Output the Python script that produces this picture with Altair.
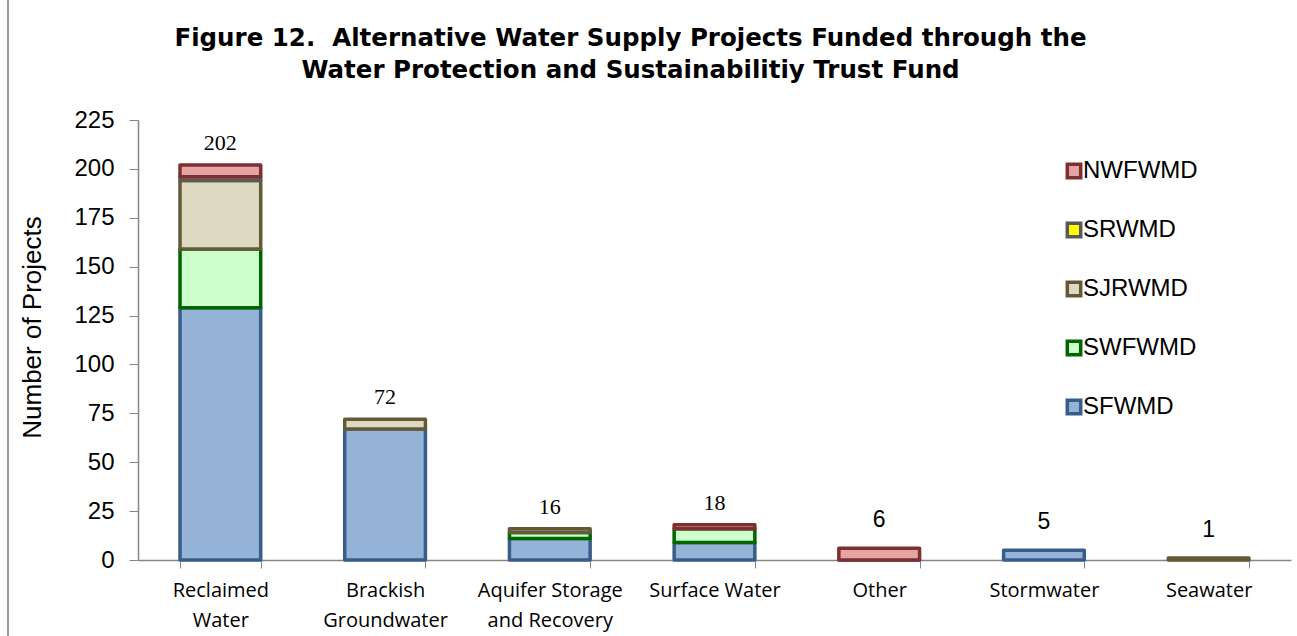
import altair as alt
import pandas as pd

categories = ["Reclaimed|Water", "Brackish|Groundwater", "Aquifer Storage|and Recovery",
              "Surface Water", "Other", "Stormwater", "Seawater"]
districts = ["SFWMD", "SWFWMD", "SJRWMD", "SRWMD", "NWFWMD"]
SFWMD  = [129, 67, 11, 9, 0, 5, 0]
SWFWMD = [30, 0, 3, 7, 0, 0, 0]
SJRWMD = [35, 5, 2, 0, 0, 0, 1]
SRWMD  = [2, 0, 0, 0, 0, 0, 0]
NWFWMD = [6, 0, 0, 2, 6, 0, 0]
totals = [202, 72, 16, 18, 6, 5, 1]
serif_label = [True, True, True, True, False, False, False]

series = {"SFWMD": SFWMD, "SWFWMD": SWFWMD, "SJRWMD": SJRWMD, "SRWMD": SRWMD, "NWFWMD": NWFWMD}
rows = []
for d_i, d in enumerate(districts):
    for c, v in zip(categories, series[d]):
        if v > 0 or (d == "SFWMD" and c == "Other"):
            rows.append({"category": c, "district": d, "value": v, "order": d_i})
df = pd.DataFrame(rows)
tot = pd.DataFrame({"category": categories, "total": totals, "serif": serif_label})

legend_order = ["NWFWMD", "SRWMD", "SJRWMD", "SWFWMD", "SFWMD"]
fills = ["#e6a3a3", "#ffff00", "#ddd9c3", "#ccffcc", "#95b3d7"]
strokes = ["#7f2f2f", "#595959", "#645a38", "#006600", "#385d8a"]

SANS = "Liberation Sans"

leg = alt.Legend(title=None, orient="none", legendX=924, legendY=39,
                 labelFont=SANS, labelFontSize=24, labelColor="black",
                 symbolType="square", symbolSize=180, symbolStrokeWidth=3.5,
                 rowPadding=31, labelOffset={"expr": "-3"})

x = alt.X("category:N", sort=categories, title=None,
          scale=alt.Scale(paddingInner=0.51, paddingOuter=0.255),
          axis=alt.Axis(labelExpr="split(datum.label, '|')", labelAngle=0,
                        labelFont="Open Sans", labelFontSize=20, labelColor="black",
                        labelLineHeight=30, labelPadding=12, labelBaseline="top",
                        tickBand="extent", tickSize=8, tickColor="#868686",
                        domainColor="#868686", domainWidth=1.5))

bars = alt.Chart(df).mark_bar(strokeWidth=3.5, strokeJoin="round").encode(
    x=x,
    y=alt.Y("value:Q", stack="zero", title="Number of Projects",
            scale=alt.Scale(domain=[0, 225], nice=False),
            axis=alt.Axis(values=list(range(0, 226, 25)), grid=False,
                          labelFont=SANS, labelFontSize=24, labelColor="black",
                          titleFont=SANS, titleFontSize=26, titleFontWeight="normal",
                          titleColor="black", titlePadding=28, titleY=207,
                          tickSize=9, tickColor="#868686", domainColor="#868686",
                          domainWidth=1.5, labelPadding=15)),
    fill=alt.Fill("district:N", scale=alt.Scale(domain=legend_order, range=fills), legend=leg),
    stroke=alt.Stroke("district:N", scale=alt.Scale(domain=legend_order, range=strokes), legend=leg),
    order=alt.Order("order:Q"),
)

txt_serif = alt.Chart(tot).transform_filter("datum.serif").mark_text(
    font="Liberation Serif", fontSize=22, baseline="bottom", dy=-10, color="black"
).encode(x=alt.X("category:N", sort=categories), y=alt.Y("total:Q"), text="total:Q")

txt_sans = alt.Chart(tot).transform_filter("!datum.serif").mark_text(
    font=SANS, fontSize=23, baseline="bottom", dy=-16, color="black"
).encode(x=alt.X("category:N", sort=categories), y=alt.Y("total:Q"), text="total:Q")

border = alt.Chart(tot).mark_rule(color="#9a9a9a", strokeWidth=1.5).encode(
    x=alt.value(-130), y=alt.value(-125), y2=alt.value(520))

chart = alt.layer(border, bars, txt_serif, txt_sans).properties(
    width=1153, height=440,
    title=alt.TitleParams(
        ["Figure 12.\u00a0 Alternative Water Supply Projects Funded through the",
         "Water Protection and Sustainabilitiy Trust Fund"],
        font="DejaVu Sans", fontSize=24.5, fontWeight="bold", color="black",
        anchor="middle", frame="group", dx=-84, dy=125, offset=36, lineHeight=32),
    autosize=alt.AutoSizeParams(type="none"),
    padding={"left": 138, "top": 120, "right": 6, "bottom": 76},
).configure(background="white").configure_view(stroke=None)

chart.save("out.html", embed_options={"renderer": "svg", "actions": False})
